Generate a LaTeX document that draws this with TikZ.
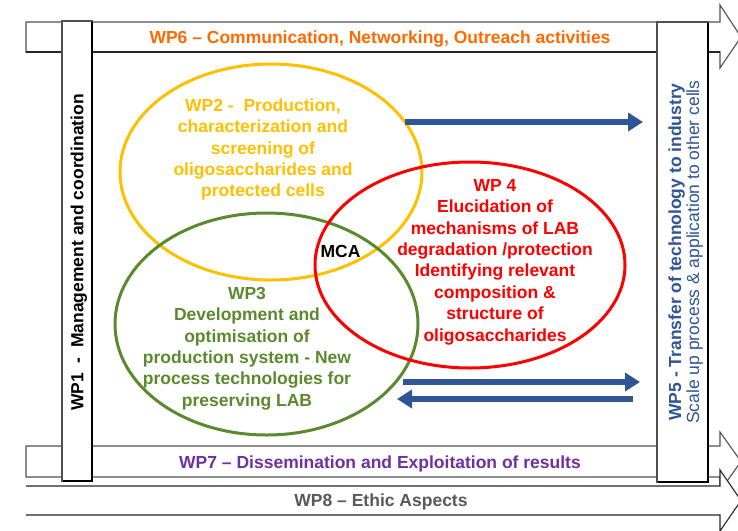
\documentclass[tikz,border=0pt]{standalone}
\usepackage{fontspec}
\setmainfont{Liberation Sans}
\usetikzlibrary{arrows.meta,shapes.geometric}
\definecolor{cOrange}{HTML}{FF6A00}
\definecolor{cYellow}{HTML}{FFC000}
\definecolor{cGreen}{HTML}{5B8A2E}
\definecolor{cRed}{HTML}{FF0000}
\definecolor{cBlue}{HTML}{2F5597}
\definecolor{cPurple}{HTML}{7030A0}
\definecolor{cGray}{HTML}{595959}
\definecolor{cEdge}{HTML}{505050}
\begin{document}
\begin{tikzpicture}[x=1pt,y=-1pt,
  lbl/.style={font=\fontsize{17.5}{21.4}\selectfont\bfseries, inner sep=0pt, align=center},
  band/.style={draw=cEdge, line width=1.1pt, fill=white, line join=miter},
  wpbox/.style={draw=cEdge, line width=1.1pt, fill=white},
  shade/.style={draw=black, line width=2pt},
  ell/.style={ellipse, draw, line width=3pt, inner sep=0pt},
  flow/.style={draw=cBlue, line width=6pt, -{Triangle[length=15pt,width=18pt]}},
]
\useasboundingbox (0,0) rectangle (738,530);
\fill[white] (0,0) rectangle (738,530);
\begin{scope}
\clip (0,0) rectangle (738,530);
% WP6 band
\draw[band] (26,22) -- (720,22) -- (720,5) -- (741,37) -- (720,68) -- (720,52) -- (26,52) -- cycle;
\draw[line width=2.6pt, black!85] (26,52) -- (720,52);
% WP7 band
\draw[band] (26,446) -- (720,446) -- (720,432) -- (741,461.5) -- (720,491) -- (720,477) -- (26,477) -- cycle;
% WP8 band
\fill[white] (26,486) -- (720,486) -- (720,470) -- (741,500.5) -- (720,531) -- (720,515) -- (26,515) -- cycle;
\draw[draw=black!85, line width=1.1pt, line join=miter] (26,486) -- (720,486) -- (720,470) -- (741,500.5) -- (720,531) -- (720,515) -- (26,515);
\end{scope}
% WP1 and WP5 boxes
\draw[wpbox] (62,21) rectangle (92,481);
\draw[shade] (92,22) -- (92,481) -- (63,481);
\draw[wpbox] (657,22) rectangle (708,482);
\draw[shade] (708,23) -- (708,482) -- (658,482);
% band labels
\node[lbl, text=cOrange, anchor=base] (wp6) at (380,43) {WP6 – Communication, Networking, Outreach activities};
\node[lbl, text=cPurple, anchor=base] (wp7) at (380,468) {WP7 – Dissemination and Exploitation of results};
\node[lbl, text=cGray, anchor=base] (wp8) at (381,506) {WP8 – Ethic Aspects};
\node[lbl, rotate=90] (wp1) at (79,252.5) {WP1\ \ -\ \ Management and coordination};
\node[lbl, text=cBlue, rotate=90, font=\fontsize{17.5}{18}\selectfont] (wp5) at (685.5,252) {\bfseries WP5 - Transfer of technology to industry\\\mdseries Scale up process \& application to other cells};
% ellipses
\node[ell, draw=cYellow, minimum width=302pt, minimum height=216pt] (e2) at (271,172) {};
\node[ell, draw=cGreen, minimum width=303pt, minimum height=222pt] (e3) at (266.5,324) {};
\node[ell, draw=cRed, minimum width=310pt, minimum height=206pt] (e4) at (470,265) {};
% ellipse texts
\node[lbl, text=cYellow] (t2) at (263,149.5) {WP2 -\ \ Production,\\characterization and\\screening of\\oligosaccharides and\\protected cells};
\node[lbl, text=cGreen] (t3) at (247,348.5) {WP3\\Development and\\optimisation of\\production system - New\\process technologies for\\preserving LAB};
\node[lbl, text=cRed] (t4) at (495,262) {WP 4\\Elucidation of\\mechanisms of LAB\\degradation /protection\\Identifying relevant\\composition \&\\structure of\\oligosaccharides};
\node[lbl, anchor=base] (mca) at (340.5,257) {MCA};
% blue flow arrows
\coordinate (a1s) at (405,122);
\coordinate (a1e) at (643,122);
\coordinate (a2s) at (403,382);
\coordinate (a2e) at (640,382);
\coordinate (a3s) at (633,399);
\coordinate (a3e) at (397,399);
\draw[flow] (a1s) -- (a1e);
\draw[flow] (a2s) -- (a2e);
\draw[flow] (a3s) -- (a3e);
\end{tikzpicture}
\end{document}
